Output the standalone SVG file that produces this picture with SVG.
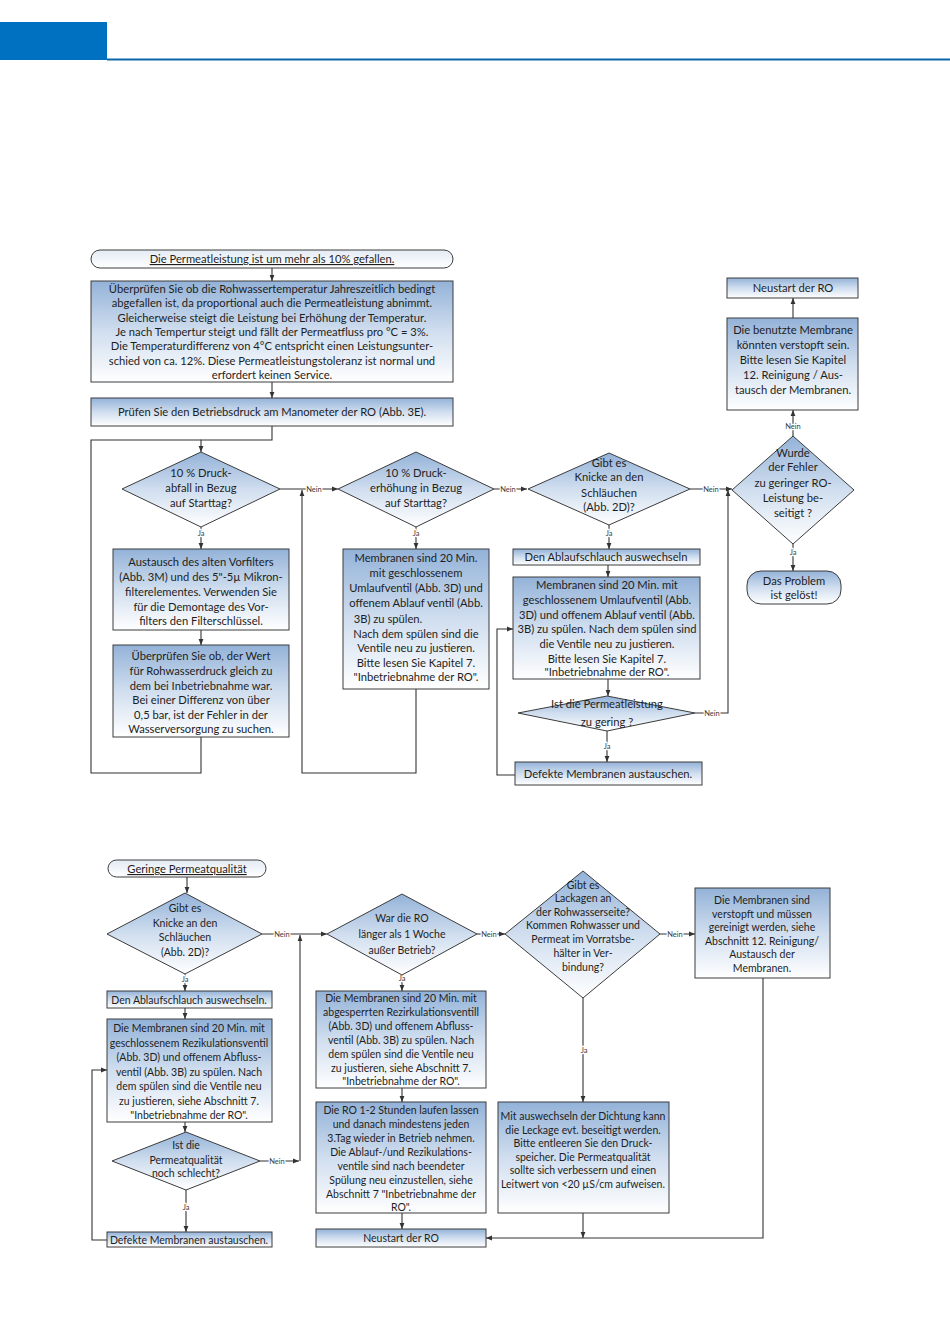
<svg xmlns="http://www.w3.org/2000/svg" width="950" height="1344" viewBox="0 0 950 1344">
<defs>
<linearGradient id="g" x1="0" y1="0" x2="0" y2="1">
<stop offset="0" stop-color="#93b2d8"/>
<stop offset="0.5" stop-color="#d0deef"/>
<stop offset="1" stop-color="#ffffff"/>
</linearGradient>
<linearGradient id="gl" x1="0" y1="0" x2="0" y2="1">
<stop offset="0" stop-color="#e4ebf4"/>
<stop offset="1" stop-color="#ffffff"/>
</linearGradient>
<marker id="a" viewBox="0 0 10 10" refX="10" refY="5" markerWidth="6" markerHeight="6" orient="auto" markerUnits="userSpaceOnUse">
<path d="M0,1 L10,5 L0,9 z" fill="#333"/>
</marker>
<style>
.b{fill:url(#g);stroke:#3c3c3c;stroke-width:1}
.tm{fill:url(#gl);stroke:#3c3c3c;stroke-width:1}
.t{font-family:Lato,'Liberation Sans',sans-serif;font-size:11.2px;fill:#1e1e1e;text-anchor:middle}
.s{font-size:10.5px}
.u{text-decoration:underline}
.c{fill:none;stroke:#333;stroke-width:1.1}
.ca{fill:none;stroke:#333;stroke-width:1.1;marker-end:url(#a)}
.l{font-family:Lato,'Liberation Sans',sans-serif;font-size:7.5px;fill:#3a3a3a;text-anchor:middle;stroke:#fff;stroke-width:2.5px;paint-order:stroke}
</style>
</defs>
<rect width="950" height="1344" fill="#fff"/>
<g id="header">
<rect x="0" y="22" width="107" height="38" fill="#0070c0"/>
<line x1="107" y1="59.5" x2="950" y2="59.5" stroke="#0b66a6" stroke-width="2"/>
</g>

<g id="connectors">
<path class="ca" d="M272,268 V281"/>
<path class="ca" d="M272,382 V398"/>
<path class="ca" d="M272,426 V440 H201 V452"/>
<path class="c" d="M201,737 V773 H91 V440 H201"/>
<path class="ca" d="M201,527 V549"/>
<path class="ca" d="M201,630 V645"/>
<path class="ca" d="M280,489 H338"/>
<path class="ca" d="M416,689 V773 H302 V490"/>
<path class="ca" d="M416,527 V549"/>
<path class="ca" d="M494,489 H527"/>
<path class="ca" d="M609,525 V549"/>
<path class="ca" d="M608,565 V577"/>
<path class="ca" d="M608,679 V696"/>
<path class="ca" d="M607,731 V762"/>
<path class="ca" d="M515,775 H497 V629 H513"/>
<path class="ca" d="M690,489 H732"/>
<path class="ca" d="M695,713 H728 V490"/>
<path class="ca" d="M793,436 V410"/>
<path class="ca" d="M793,318 V298"/>
<path class="ca" d="M793,544 V571"/>

<path class="ca" d="M187,877 V893"/>
<path class="ca" d="M185,974 V991"/>
<path class="ca" d="M185,1008 V1019"/>
<path class="ca" d="M185,1122 V1132"/>
<path class="ca" d="M186,1190 V1232"/>
<path class="ca" d="M107,1240 H92 V1070 H107"/>
<path class="ca" d="M260,1161 H299"/>
<path class="ca" d="M300,1161 V935"/>
<path class="ca" d="M262,934 H327"/>
<path class="ca" d="M402,975 V991"/>
<path class="ca" d="M402,1088 V1102"/>
<path class="ca" d="M402,1213 V1229"/>
<path class="ca" d="M477,934 H505"/>
<path class="ca" d="M660,934 H695"/>
<path class="ca" d="M583,998 V1102"/>
<path class="ca" d="M583,1213 V1238"/>
<path class="ca" d="M763,978 V1238 H486"/>

<text class="l" x="201" y="536">Ja</text>
<text class="l" x="314" y="492">Nein</text>
<text class="l" x="416" y="536">Ja</text>
<text class="l" x="508" y="492">Nein</text>
<text class="l" x="609" y="536">Ja</text>
<text class="l" x="711" y="492">Nein</text>
<text class="l" x="712" y="716">Nein</text>
<text class="l" x="607" y="749">Ja</text>
<text class="l" x="793" y="429">Nein</text>
<text class="l" x="793" y="555">Ja</text>
<text class="l" x="185" y="982">Ja</text>
<text class="l" x="282" y="937">Nein</text>
<text class="l" x="402" y="981">Ja</text>
<text class="l" x="489" y="937">Nein</text>
<text class="l" x="675" y="937">Nein</text>
<text class="l" x="584" y="1053">Ja</text>
<text class="l" x="277" y="1164">Nein</text>
<text class="l" x="186" y="1210">Ja</text>
</g>

<g id="start1">
<rect class="tm" x="91" y="250" width="362" height="18" rx="9"/>
<text class="t u" x="272" y="263">Die Permeatleistung ist um mehr als 10% gefallen.</text>
</g>
<g id="box1">
<rect class="b" x="91" y="281" width="362" height="101"/>
<text class="t" x="272" y="293">Überprüfen Sie ob die Rohwassertemperatur Jahreszeitlich bedingt</text>
<text class="t" x="272" y="307.3">abgefallen ist, da proportional auch die Permeatleistung abnimmt.</text>
<text class="t" x="272" y="321.6">Gleicherweise steigt die Leistung bei Erhöhung der Temperatur.</text>
<text class="t" x="272" y="336">Je nach Tempertur steigt und fällt der Permeatfluss pro °C = 3%.</text>
<text class="t" x="272" y="350.3">Die Temperaturdifferenz von 4°C entspricht einen Leistungsunter-</text>
<text class="t" x="272" y="364.6">schied von ca. 12%. Diese Permeatleistungstoleranz ist normal und</text>
<text class="t" x="272" y="379">erfordert keinen Service.</text>
</g>
<g id="box2">
<rect class="b" x="91" y="398" width="362" height="28"/>
<text class="t" x="272" y="416">Prüfen Sie den Betriebsdruck am Manometer der RO (Abb. 3E).</text>
</g>
<g id="d1">
<polygon class="b" points="201,452 280,489 201,527 122,489"/>
<text class="t" x="201" y="477">10 % Druck-</text>
<text class="t" x="201" y="492">abfall in Bezug</text>
<text class="t" x="201" y="507">auf Starttag?</text>
</g>
<g id="d2">
<polygon class="b" points="416,452 494,489 416,527 338,489"/>
<text class="t" x="416" y="477">10 % Druck-</text>
<text class="t" x="416" y="492">erhöhung in Bezug</text>
<text class="t" x="416" y="507">auf Starttag?</text>
</g>
<g id="d3">
<polygon class="b" points="609,453 690,489 609,525 528,489"/>
<text class="t" x="609" y="467">Gibt es</text>
<text class="t" x="609" y="481">Knicke an den</text>
<text class="t" x="609" y="497">Schläuchen</text>
<text class="t" x="609" y="511">(Abb. 2D)?</text>
</g>
<g id="boxA">
<rect class="b" x="113" y="549" width="176" height="81"/>
<text class="t" x="201" y="566">Austausch des alten Vorfilters</text>
<text class="t" x="201" y="581">(Abb. 3M) und des 5"-5µ Mikron-</text>
<text class="t" x="201" y="596">filterelementes. Verwenden Sie</text>
<text class="t" x="201" y="611">für die Demontage des Vor-</text>
<text class="t" x="201" y="625">filters den Filterschlüssel.</text>
</g>
<g id="boxB">
<rect class="b" x="113" y="645" width="176" height="92"/>
<text class="t" x="201" y="660">Überprüfen Sie ob, der Wert</text>
<text class="t" x="201" y="675">für Rohwasserdruck gleich zu</text>
<text class="t" x="201" y="689.5">dem bei Inbetriebnahme war.</text>
<text class="t" x="201" y="704">Bei einer Differenz von über</text>
<text class="t" x="201" y="718.5">0,5 bar, ist der Fehler in der</text>
<text class="t" x="201" y="733">Wasserversorgung zu suchen.</text>
</g>
<g id="boxC">
<rect class="b" x="343" y="549" width="146" height="140"/>
<text class="t" x="416" y="562">Membranen sind 20 Min.</text>
<text class="t" x="416" y="577">mit geschlossenem</text>
<text class="t" x="416" y="592">Umlaufventil (Abb. 3D) und</text>
<text class="t" x="416" y="607">offenem Ablauf ventil (Abb.</text>
<text class="t" x="388" y="623">3B) zu spülen.</text>
<text class="t" x="416" y="638">Nach dem spülen sind die</text>
<text class="t" x="416" y="652">Ventile neu zu justieren.</text>
<text class="t" x="416" y="667">Bitte lesen Sie Kapitel 7.</text>
<text class="t" x="416" y="681">"Inbetriebnahme der RO".</text>
</g>
<g id="boxD">
<rect class="b" x="513" y="549" width="187" height="16"/>
<text class="t" x="606" y="561">Den Ablaufschlauch auswechseln</text>
</g>
<g id="boxE">
<rect class="b" x="513" y="577" width="187" height="102"/>
<text class="t" x="607" y="589">Membranen sind 20 Min. mit</text>
<text class="t" x="607" y="604">geschlossenem Umlaufventil (Abb.</text>
<text class="t" x="607" y="619">3D) und offenem Ablauf ventil (Abb.</text>
<text class="t" x="607" y="633">3B) zu spülen. Nach dem spülen sind</text>
<text class="t" x="607" y="648">die Ventile neu zu justieren.</text>
<text class="t" x="607" y="663">Bitte lesen Sie Kapitel 7.</text>
<text class="t" x="607" y="676">"Inbetriebnahme der RO".</text>
</g>
<g id="d5">
<polygon class="b" points="607,696 695,713 607,731 518,713"/>
<text class="t" x="607" y="708">Ist die Permeatleistung</text>
<text class="t" x="607" y="726">zu gering ?</text>
</g>
<g id="boxF">
<rect class="b" x="515" y="762" width="187" height="23"/>
<text class="t" x="608" y="778">Defekte Membranen austauschen.</text>
</g>
<g id="d4">
<polygon class="b" points="793,436 854,490 793,544 732,490"/>
<text class="t" x="793" y="457">Wurde</text>
<text class="t" x="793" y="471">der Fehler</text>
<text class="t" x="793" y="487">zu geringer RO-</text>
<text class="t" x="793" y="502">Leistung be-</text>
<text class="t" x="793" y="517">seitigt ?</text>
</g>
<g id="boxMem">
<rect class="b" x="727" y="318" width="131" height="92"/>
<text class="t" x="793" y="334">Die benutzte Membrane</text>
<text class="t" x="793" y="349">könnten verstopft sein.</text>
<text class="t" x="793" y="364">Bitte lesen Sie Kapitel</text>
<text class="t" x="793" y="379">12. Reinigung / Aus-</text>
<text class="t" x="793" y="394">tausch der Membranen.</text>
</g>
<g id="neustart1">
<rect class="b" x="727" y="278" width="131" height="20"/>
<text class="t" x="793" y="292">Neustart der RO</text>
</g>
<g id="end1">
<rect class="b" x="747" y="571" width="94" height="33" rx="14"/>
<text class="t" x="794" y="585">Das Problem</text>
<text class="t" x="794" y="599">ist gelöst!</text>
</g>

<g id="start2">
<rect class="tm" x="108" y="860" width="158" height="17" rx="8.5"/>
<text class="t u" x="187" y="873">Geringe Permeatqualität</text>
</g>
<g id="d6">
<polygon class="b" points="185,893 262,934 185,974 107,934"/>
<text class="t s" x="185" y="912">Gibt es</text>
<text class="t s" x="185" y="927">Knicke an den</text>
<text class="t s" x="185" y="941">Schläuchen</text>
<text class="t s" x="185" y="956">(Abb. 2D)?</text>
</g>
<g id="boxI">
<rect class="b" x="107" y="991" width="165" height="17"/>
<text class="t s" x="189" y="1003.5">Den Ablaufschlauch auswechseln.</text>
</g>
<g id="boxJ">
<rect class="b" x="107" y="1019" width="165" height="103"/>
<text class="t s" x="189" y="1032">Die Membranen sind 20 Min. mit</text>
<text class="t s" x="189" y="1046.5">geschlossenem Rezikulationsventil</text>
<text class="t s" x="189" y="1061">(Abb. 3D) und offenem Abfluss-</text>
<text class="t s" x="189" y="1075.5">ventil (Abb. 3B) zu spülen. Nach</text>
<text class="t s" x="189" y="1090">dem spülen sind die Ventile neu</text>
<text class="t s" x="189" y="1104.5">zu justieren, siehe Abschnitt 7.</text>
<text class="t s" x="189" y="1118.5">"Inbetriebnahme der RO".</text>
</g>
<g id="d9">
<polygon class="b" points="186,1132 260,1161 186,1190 112,1161"/>
<text class="t s" x="186" y="1149">Ist die</text>
<text class="t s" x="186" y="1164">Permeatqualität</text>
<text class="t s" x="186" y="1177">noch schlecht?</text>
</g>
<g id="boxK">
<rect class="b" x="107" y="1232" width="165" height="15"/>
<text class="t s" x="189" y="1243.5">Defekte Membranen austauschen.</text>
</g>
<g id="d7">
<polygon class="b" points="402,894 477,934 402,975 327,934"/>
<text class="t s" x="402" y="922">War die RO</text>
<text class="t s" x="402" y="938">länger als 1 Woche</text>
<text class="t s" x="402" y="954">außer Betrieb?</text>
</g>
<g id="boxL">
<rect class="b" x="316" y="991" width="170" height="97"/>
<text class="t s" x="401" y="1001.5">Die Membranen sind 20 Min. mit</text>
<text class="t s" x="401" y="1015.5">abgesperrten Rezirkulationsventill</text>
<text class="t s" x="401" y="1029.5">(Abb. 3D) und offenem Abfluss-</text>
<text class="t s" x="401" y="1043.5">ventil (Abb. 3B) zu spülen. Nach</text>
<text class="t s" x="401" y="1057.5">dem spülen sind die Ventile neu</text>
<text class="t s" x="401" y="1071.5">zu justieren, siehe Abschnitt 7.</text>
<text class="t s" x="401" y="1084.5">"Inbetriebnahme der RO".</text>
</g>
<g id="boxM">
<rect class="b" x="316" y="1102" width="170" height="111"/>
<text class="t s" x="401" y="1114">Die RO 1-2 Stunden laufen lassen</text>
<text class="t s" x="401" y="1128">und danach mindestens jeden</text>
<text class="t s" x="401" y="1142">3.Tag wieder in Betrieb nehmen.</text>
<text class="t s" x="401" y="1156">Die Ablauf-/und Rezikulations-</text>
<text class="t s" x="401" y="1170">ventile sind nach beendeter</text>
<text class="t s" x="401" y="1184">Spülung neu einzustellen, siehe</text>
<text class="t s" x="401" y="1198">Abschnitt 7 "Inbetriebnahme der</text>
<text class="t s" x="401" y="1210.5">RO".</text>
</g>
<g id="neustart2">
<rect class="b" x="316" y="1229" width="170" height="18"/>
<text class="t s" x="401" y="1241.5">Neustart der RO</text>
</g>
<g id="d8">
<polygon class="b" points="583,871 660,934 583,998 505,934"/>
<text class="t s" x="583" y="889">Gibt es</text>
<text class="t s" x="583" y="902">Lackagen an</text>
<text class="t s" x="583" y="916">der Rohwasserseite?</text>
<text class="t s" x="583" y="929">Kommen Rohwasser und</text>
<text class="t s" x="583" y="943">Permeat im Vorratsbe-</text>
<text class="t s" x="583" y="957">hälter in Ver-</text>
<text class="t s" x="583" y="971">bindung?</text>
</g>
<g id="boxH">
<rect class="b" x="695" y="888" width="135" height="90"/>
<text class="t s" x="762" y="904">Die Membranen sind</text>
<text class="t s" x="762" y="917.5">verstopft und müssen</text>
<text class="t s" x="762" y="931">gereinigt werden, siehe</text>
<text class="t s" x="762" y="944.5">Abschnitt 12. Reinigung/</text>
<text class="t s" x="762" y="958">Austausch der</text>
<text class="t s" x="762" y="971.5">Membranen.</text>
</g>
<g id="boxG">
<rect class="b" x="498" y="1102" width="171" height="111"/>
<text class="t s" x="583" y="1120">Mit auswechseln der Dichtung kann</text>
<text class="t s" x="583" y="1134">die Leckage evt. beseitigt werden.</text>
<text class="t s" x="583" y="1147">Bitte entleeren Sie den Druck-</text>
<text class="t s" x="583" y="1161">speicher. Die Permeatqualität</text>
<text class="t s" x="583" y="1174">sollte sich verbessern und einen</text>
<text class="t s" x="583" y="1188">Leitwert von &lt;20 µS/cm aufweisen.</text>
</g>
</svg>
